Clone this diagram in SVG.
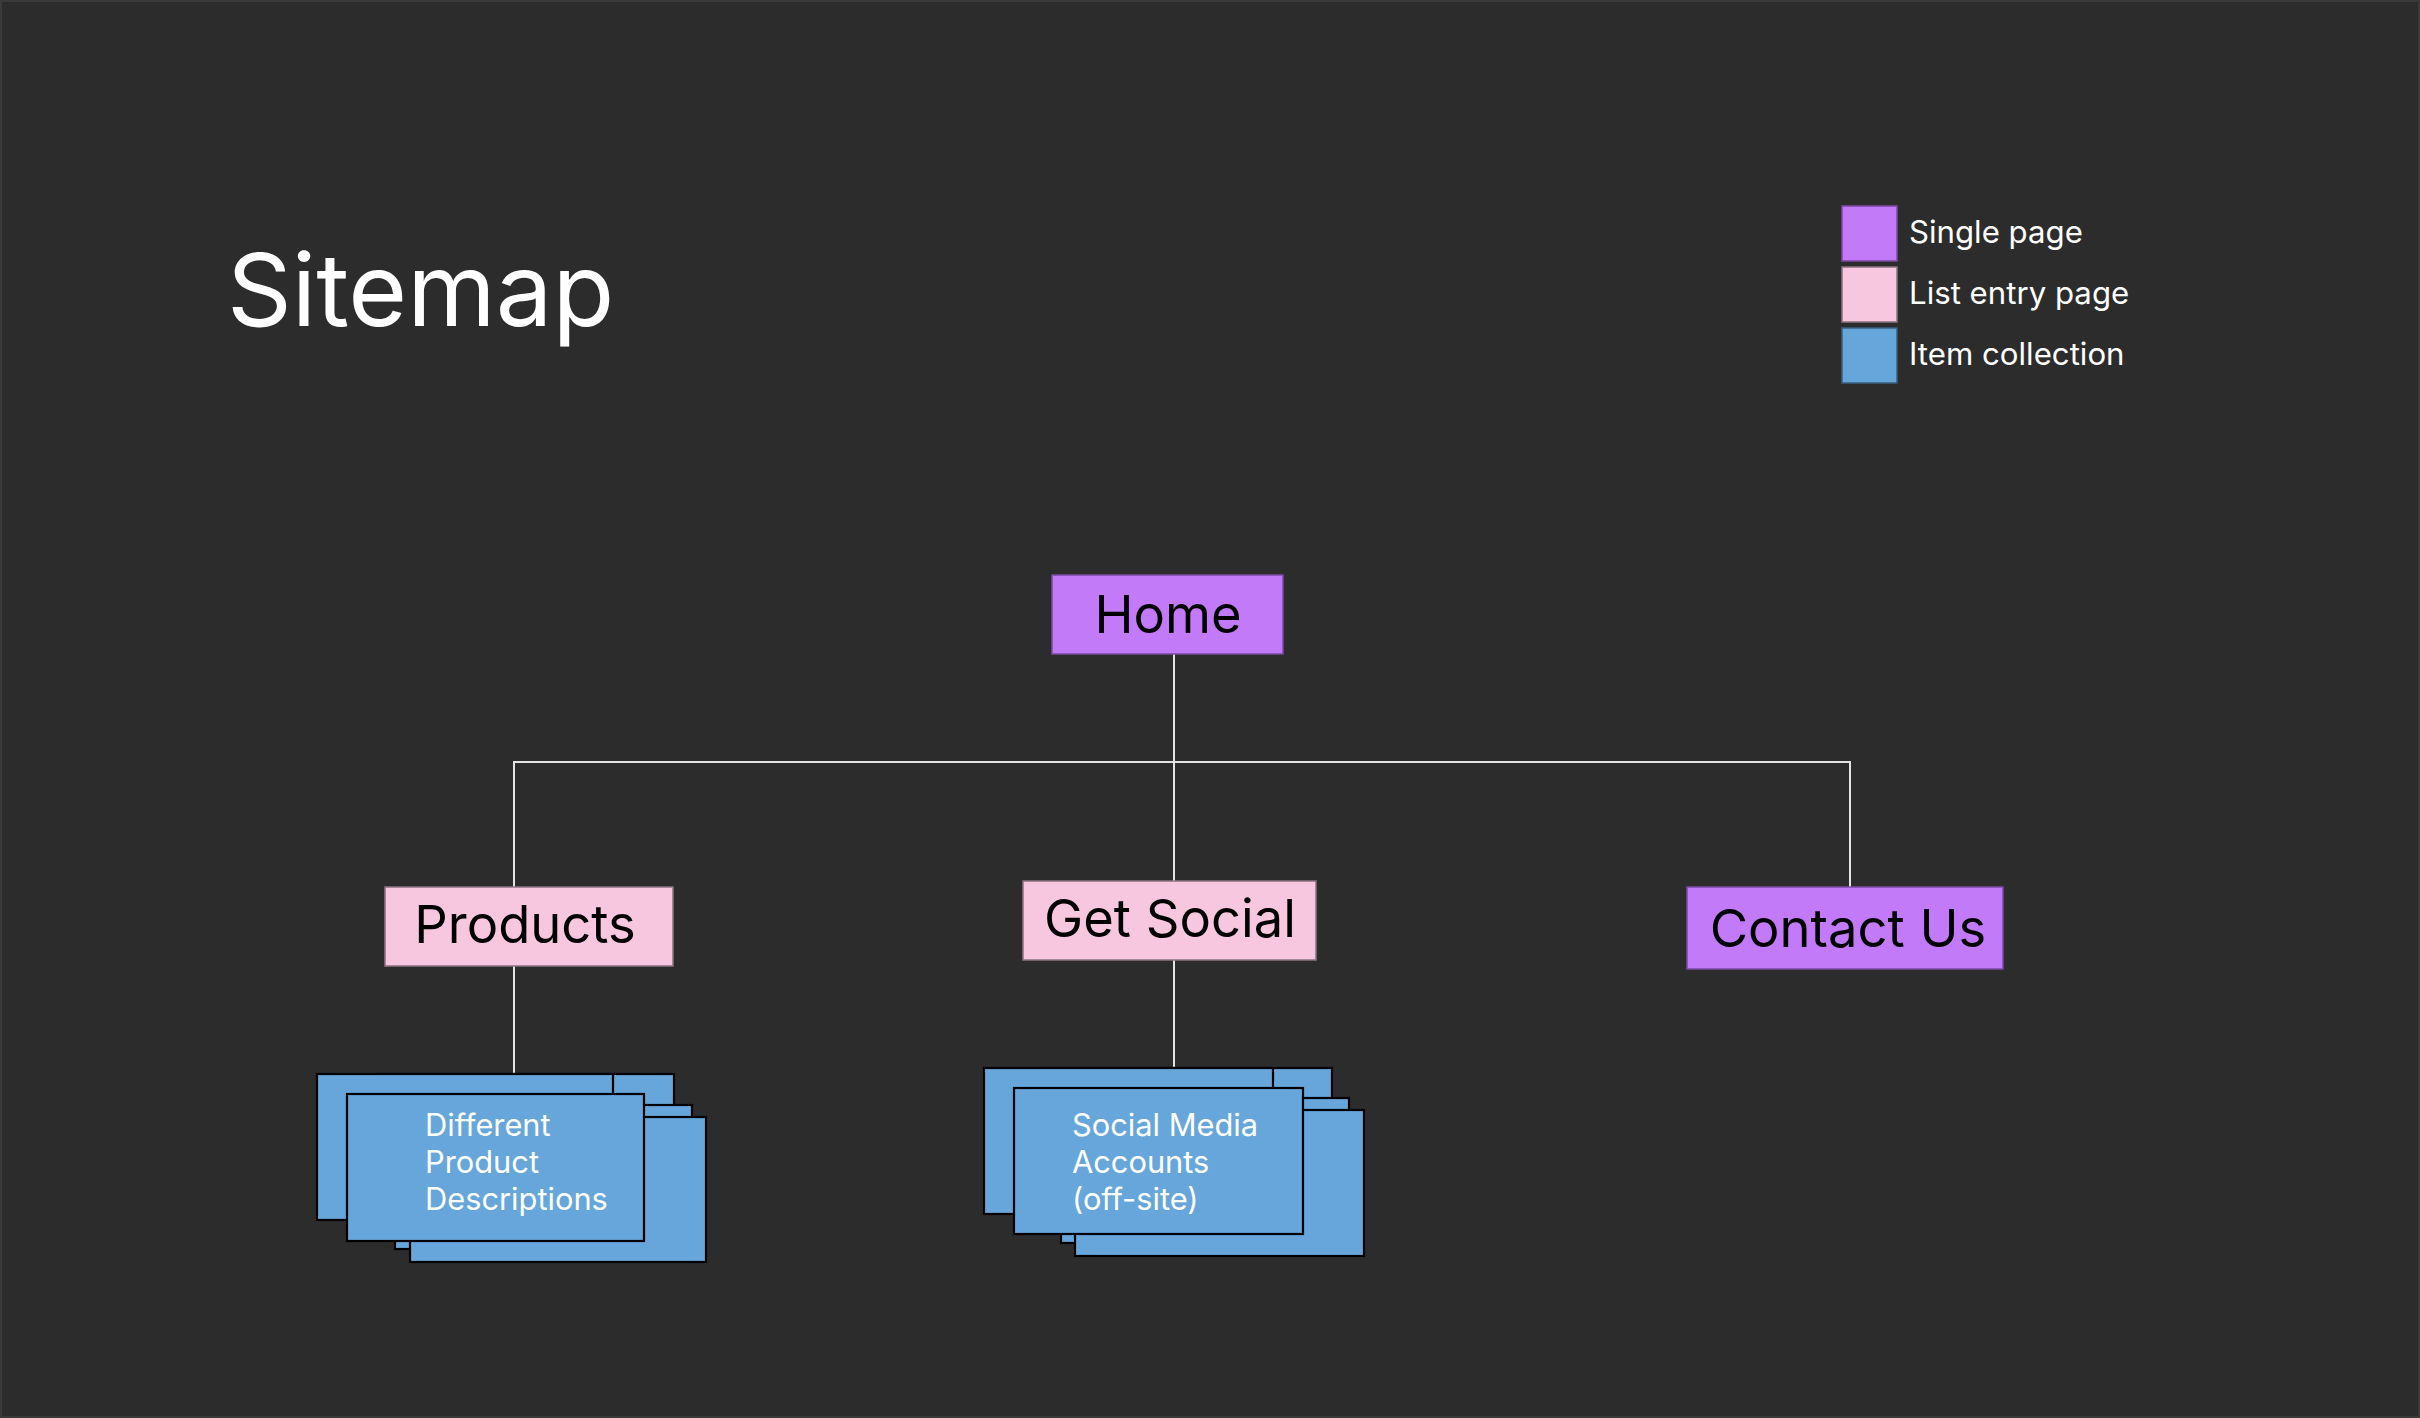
<svg xmlns="http://www.w3.org/2000/svg" width="2420" height="1418" viewBox="0 0 2420 1418">
<style>
.bg{fill:#2c2c2c;stroke:#3a3a3a;stroke-width:2}
.single{fill:#c27af8;stroke:#7d4aa3;stroke-width:1.5}
.list{fill:#f7c6df;stroke:#8a7380;stroke-width:1.5}
.item{fill:#66a6da;stroke:#000;stroke-width:2.2}
.leg-blue{fill:#66a6da;stroke:#3a5f80;stroke-width:1.5}
.lbl{font-family:Inter,"Noto Sans","Liberation Sans",sans-serif;font-size:52.5px;fill:#000;text-anchor:middle}
.itxt{font-family:Inter,"Noto Sans","Liberation Sans",sans-serif;font-size:30.8px;fill:#fff}
.legtxt{font-family:Inter,"Noto Sans","Liberation Sans",sans-serif;font-size:31.2px;fill:#fff}
.title{font-family:Inter,"Noto Sans","Liberation Sans",sans-serif;font-size:101px;fill:#fff}
.conn{stroke:#e4e4e4;stroke-width:2;fill:none}
</style>
<rect class="bg" x="1" y="1" width="2418" height="1416"/>
<text class="title" x="227" y="326">Sitemap</text>
<g id="legend">
<rect class="single" x="1842" y="206" width="55" height="55"/>
<rect class="list" x="1842" y="267" width="55" height="55"/>
<rect class="leg-blue" x="1842" y="328" width="55" height="55"/>
<text class="legtxt" x="1909" y="243">Single page</text>
<text class="legtxt" x="1909" y="304">List entry page</text>
<text class="legtxt" x="1909" y="365">Item collection</text>
</g>
<g id="connectors">
<line class="conn" x1="1174" y1="654" x2="1174" y2="762"/>
<line class="conn" x1="513" y1="762" x2="1851" y2="762"/>
<line class="conn" x1="514" y1="762" x2="514" y2="887"/>
<line class="conn" x1="1174" y1="762" x2="1174" y2="881"/>
<line class="conn" x1="1850" y1="762" x2="1850" y2="887"/>
<line class="conn" x1="514" y1="966" x2="514" y2="1074"/>
<line class="conn" x1="1174" y1="960" x2="1174" y2="1068"/>
</g>
<g id="home">
<rect class="single" x="1052" y="575" width="231" height="79"/>
<text class="lbl" x="1168" y="633">Home</text>
</g>
<g id="products">
<rect class="list" x="385" y="887" width="288" height="79"/>
<text class="lbl" x="525" y="943">Products</text>
</g>
<g id="get-social">
<rect class="list" x="1023" y="881" width="293" height="79"/>
<text class="lbl" x="1170" y="937">Get Social</text>
</g>
<g id="contact-us">
<rect class="single" x="1687" y="887" width="316" height="82"/>
<text class="lbl" x="1848" y="947">Contact Us</text>
</g>
<g id="product-descriptions">
<rect class="item" x="377" y="1074" width="297" height="146"/>
<rect class="item" x="395" y="1105" width="297" height="144"/>
<rect class="item" x="410" y="1117" width="296" height="145"/>
<rect class="item" x="317" y="1074" width="296" height="146"/>
<rect class="item" x="347" y="1094" width="297" height="147"/>
<text class="itxt" x="425" y="1136">Different</text>
<text class="itxt" x="425" y="1173">Product</text>
<text class="itxt" x="425" y="1210">Descriptions</text>
</g>
<g id="social-accounts">
<rect class="item" x="1043" y="1068" width="289" height="146"/>
<rect class="item" x="1061" y="1098" width="288" height="145"/>
<rect class="item" x="1075" y="1110" width="289" height="146"/>
<rect class="item" x="984" y="1068" width="289" height="146"/>
<rect class="item" x="1014" y="1088" width="289" height="146"/>
<text class="itxt" x="1072" y="1136">Social Media</text>
<text class="itxt" x="1072" y="1173">Accounts</text>
<text class="itxt" x="1072" y="1210">(off-site)</text>
</g>
</svg>
